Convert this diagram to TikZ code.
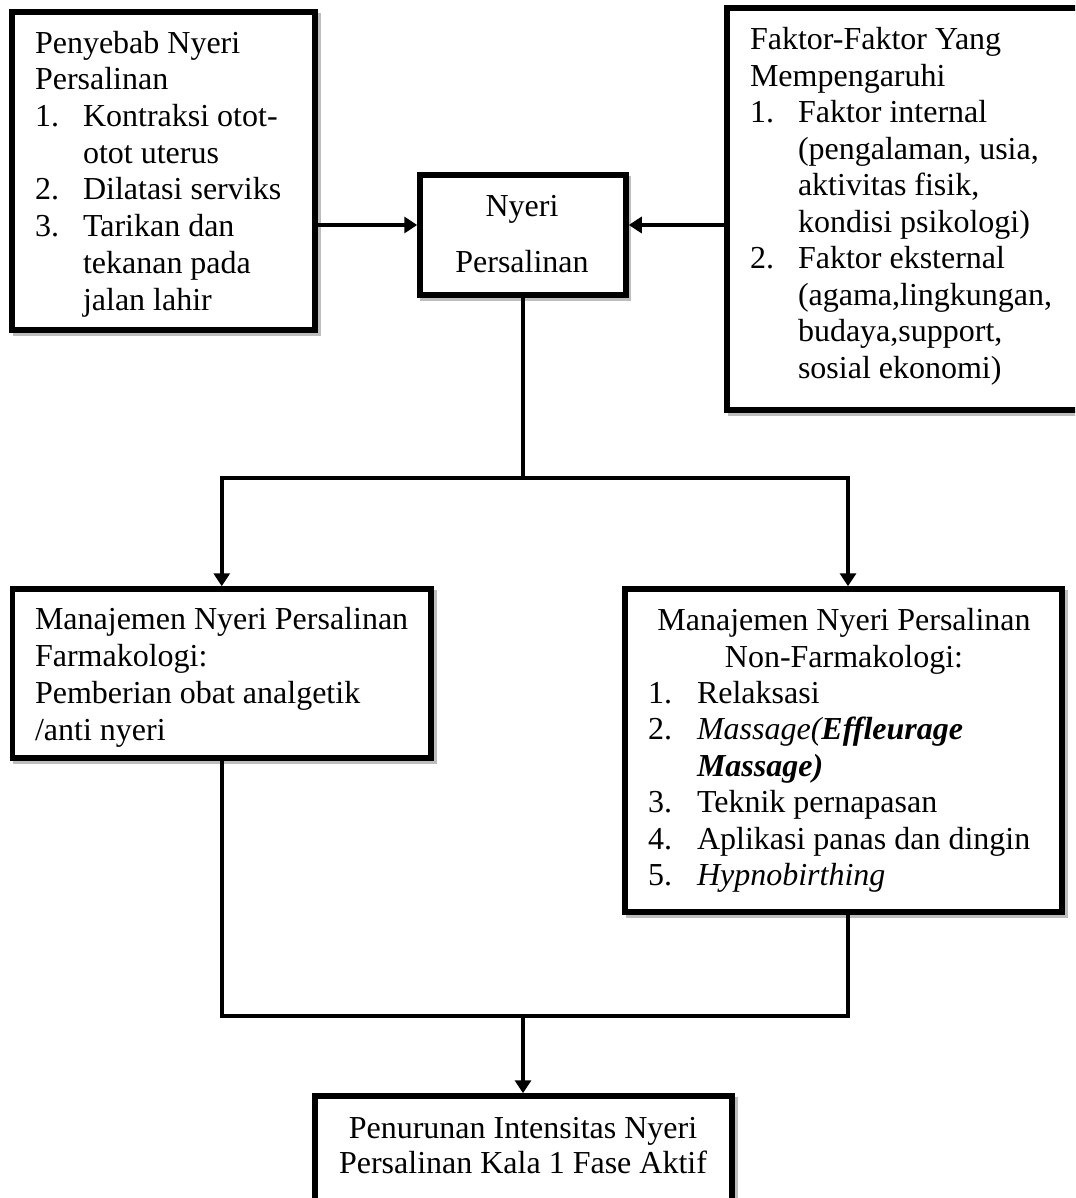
\documentclass[tikz,border=0pt]{standalone}
\usepackage{fontspec}
\setmainfont{Liberation Serif}
\usetikzlibrary{arrows.meta}
\definecolor{shadowgray}{HTML}{BDBDBD}
\newcommand{\itm}[1]{\makebox[48pt][l]{#1}}
\newcommand{\itmB}[1]{\makebox[49pt][l]{#1}}
\begin{document}
\begin{tikzpicture}[x=1pt,y=-1pt,
  box/.style={rectangle, draw=black, line width=5.5pt, fill=white, inner sep=0pt},
  shadowline/.style={draw=shadowgray, line width=5.5pt},
  txt/.style={inner sep=0pt, outer sep=0pt, align=left, font=\fontsize{32}{36.7}\selectfont},
  ctxt/.style={txt, align=center},
  conn/.style={line width=4pt},
  arr/.style={conn, -{Triangle[length=13pt,width=16pt]}}]
\useasboundingbox[fill=white] (0,0) rectangle (1075,1198);
\begin{scope}
\clip (0,0) rectangle (1075,1198);

% shadows
\draw[shadowline] (15.5,15.5) rectangle (318.5,333.5);
\draw[shadowline] (422.5,178.5) rectangle (628.5,298.5);
\draw[shadowline] (730.5,11.5) rectangle (1103.5,413.5);
\draw[shadowline] (16,592.5) rectangle (434.5,761.5);
\draw[shadowline] (628.5,592.5) rectangle (1065.5,915.5);
\draw[shadowline] (318.5,1099.5) rectangle (735.5,1253.5);

% boxes
\node[box, minimum width=303pt, minimum height=318pt] (penyebab) at (163.5,171) {};
\node[box, minimum width=206pt, minimum height=120pt] (nyeri) at (523,235) {};
\node[box, minimum width=373pt, minimum height=402pt] (faktor) at (913.5,209) {};
\node[box, minimum width=418.5pt, minimum height=169pt] (farm) at (221.75,673.5) {};
\node[box, minimum width=437pt, minimum height=323pt] (nonfarm) at (843.5,750.5) {};
\node[box, minimum width=417pt, minimum height=154pt] (hasil) at (523.5,1173) {};

% texts (anchored at the baseline of their last line)
\node[txt, anchor=base west] (tpenyebab) at (35,310) {Penyebab Nyeri\\Persalinan\\
  \itm{1.}Kontraksi otot-\\\hspace*{48pt}otot uterus\\
  \itm{2.}Dilatasi serviks\\
  \itm{3.}Tarikan dan\\\hspace*{48pt}tekanan pada\\\hspace*{48pt}jalan lahir};
\node[ctxt, anchor=base, font=\fontsize{32}{55}\selectfont] (tnyeri) at (522,272) {Nyeri\\Persalinan};
\node[txt, anchor=base west, font=\fontsize{32}{36.45}\selectfont] (tfaktor) at (750,378) {Faktor-Faktor Yang\\Mempengaruhi\\
  \itm{1.}Faktor internal\\\hspace*{48pt}(pengalaman, usia,\\\hspace*{48pt}aktivitas fisik,\\\hspace*{48pt}kondisi psikologi)\\
  \itm{2.}Faktor eksternal\\\hspace*{48pt}(agama,lingkungan,\\\hspace*{48pt}budaya,support,\\\hspace*{48pt}sosial ekonomi)};
\node[txt, anchor=base west] (tfarm) at (35,740) {Manajemen Nyeri Persalinan\\Farmakologi:\\Pemberian obat analgetik\\/anti nyeri};
\node[ctxt, anchor=base] (tnonfarmhead) at (844,667) {Manajemen Nyeri Persalinan\\Non-Farmakologi:};
\node[txt, anchor=base west, font=\fontsize{32}{36.5}\selectfont] (tnonfarm) at (648,885.5) {\itmB{1.}Relaksasi\\
  \itmB{2.}\textit{Massage(\textbf{Effleurage}}\\\hspace*{49pt}\textbf{\textit{Massage)}}\\
  \itmB{3.}Teknik pernapasan\\
  \itmB{4.}Aplikasi panas dan dingin\\
  \itmB{5.}\textit{Hypnobirthing}};
\node[ctxt, anchor=base, font=\fontsize{32}{35.5}\selectfont] (thasil) at (523,1173.5) {Penurunan Intensitas Nyeri\\Persalinan Kala 1 Fase Aktif};

% connectors
\coordinate (ya) at (0,225);
\coordinate (split) at (523,478);
\coordinate (merge) at (523,1016);
\draw[arr] (penyebab.east |- ya) -- (nyeri.west |- ya);
\draw[arr] (faktor.west |- ya) -- (nyeri.east |- ya);
\draw[conn] (nyeri.south) -- (nyeri.south |- split);
\draw[arr] (nyeri.south |- split) -| (farm.north);
\draw[arr] (nyeri.south |- split) -| ([xshift=4.5pt]nonfarm.north);
\draw[conn] (farm.south) |- (merge);
\draw[conn] ([xshift=4.5pt]nonfarm.south) |- (merge);
\draw[arr] (merge) -- (merge |- hasil.north);
\end{scope}
\end{tikzpicture}
\end{document}
